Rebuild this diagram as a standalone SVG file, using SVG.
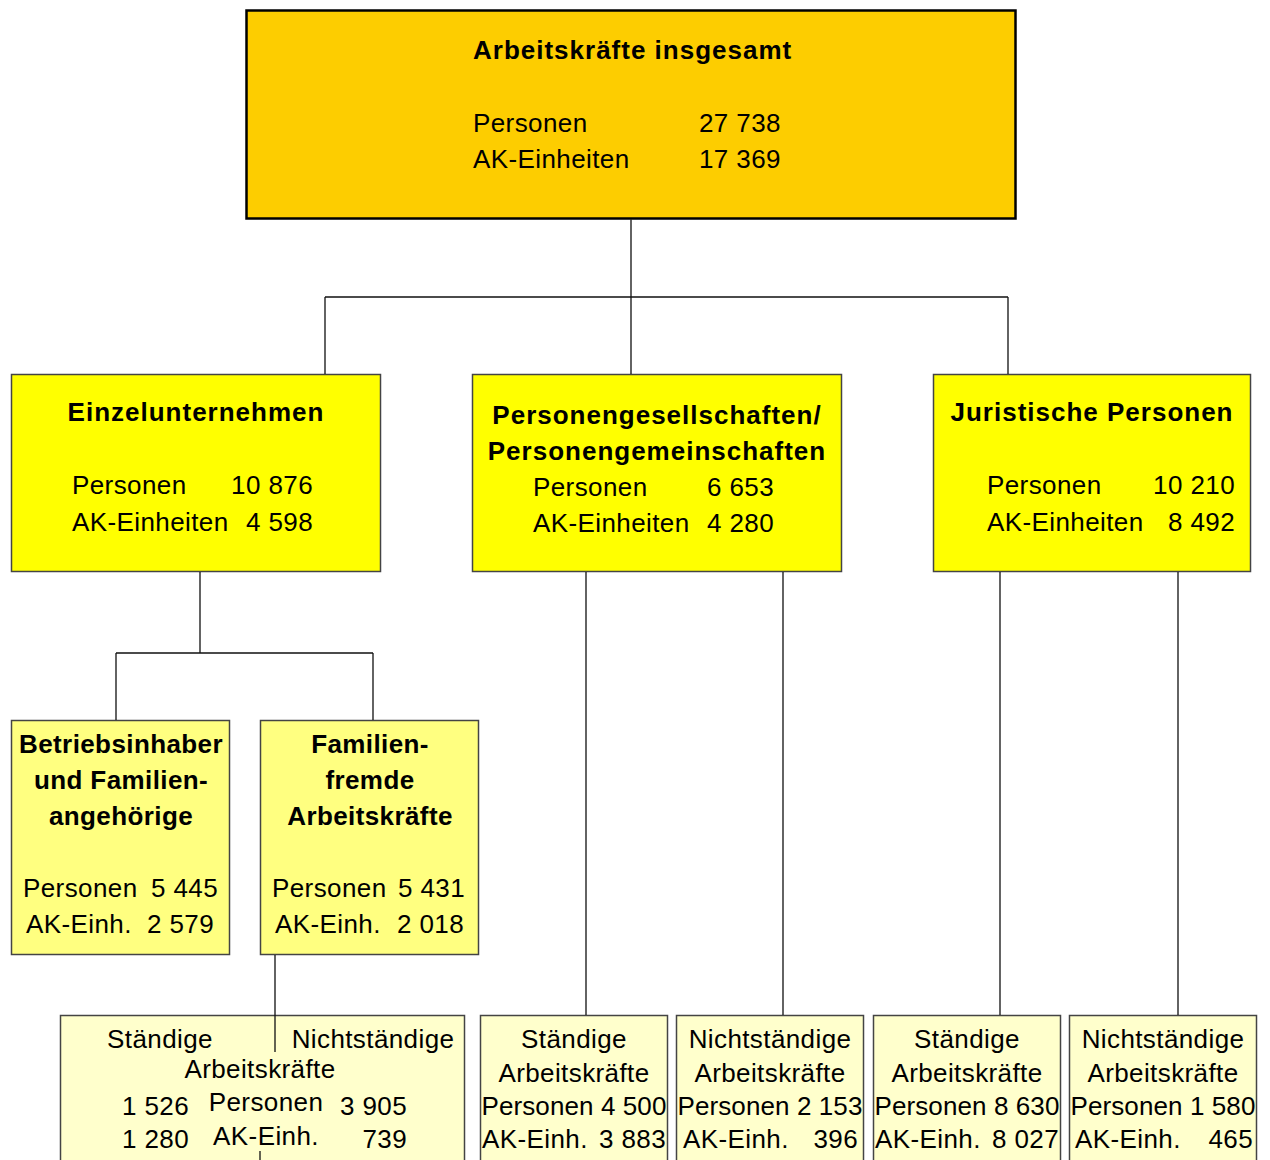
<svg xmlns="http://www.w3.org/2000/svg" width="1270" height="1160" viewBox="0 0 1270 1160">
<style>
text{font-family:"Liberation Sans",Arial,sans-serif;font-size:26px;fill:#000;letter-spacing:0.4px}
.b{font-weight:bold;letter-spacing:1px}
.b2{font-weight:bold;letter-spacing:0.4px}
.c{text-anchor:middle}
.r{text-anchor:end}
.s{letter-spacing:0.1px}
.box{stroke:#444;stroke-width:1.5}
.l1{fill:#FFFF00}
.l2{fill:#FFFF80}
.l3{fill:#FFFFCC}
.conn{stroke:#111;stroke-width:1.3;fill:none}
</style>
<rect width="1270" height="1160" fill="#fff"/>
<g id="n-total">
<rect x="246.5" y="10.5" width="769" height="208" fill="#FDCD00" stroke="#000" stroke-width="2.5"/>
<text class="b" x="473" y="59">Arbeitskräfte insgesamt</text>
<text x="473" y="132">Personen</text>
<text x="699" y="132">27 738</text>
<text x="473" y="168">AK-Einheiten</text>
<text x="699" y="168">17 369</text>
</g>
<g id="n-einzel">
<rect class="box l1" x="11.5" y="374.5" width="369" height="197"/>
<text class="b c" x="196" y="421">Einzelunternehmen</text>
<text x="72" y="494">Personen</text>
<text class="r" x="313" y="494">10 876</text>
<text x="72" y="531">AK-Einheiten</text>
<text class="r" x="313" y="531">4 598</text>
</g>
<g id="n-persges">
<rect class="box l1" x="472.5" y="374.5" width="369" height="197"/>
<text class="b c" x="657" y="424">Personengesellschaften/</text>
<text class="b c" x="657" y="460">Personengemeinschaften</text>
<text x="533" y="496">Personen</text>
<text x="707" y="496">6 653</text>
<text x="533" y="532">AK-Einheiten</text>
<text x="707" y="532">4 280</text>
</g>
<g id="n-jur">
<rect class="box l1" x="933.5" y="374.5" width="317" height="197"/>
<text class="b c" x="1092" y="421">Juristische Personen</text>
<text x="987" y="494">Personen</text>
<text class="r" x="1235" y="494">10 210</text>
<text x="987" y="531">AK-Einheiten</text>
<text class="r" x="1235" y="531">8 492</text>
</g>
<g id="n-inhaber">
<rect class="box l2" x="11.5" y="720.5" width="218" height="234"/>
<text class="b2 c" x="121" y="753">Betriebsinhaber</text>
<text class="b2 c" x="121" y="789">und Familien-</text>
<text class="b2 c" x="121" y="825">angehörige</text>
<text x="23" y="897">Personen</text>
<text class="r" x="218" y="897">5 445</text>
<text x="26" y="933">AK-Einh.</text>
<text class="r" x="214" y="933">2 579</text>
</g>
<g id="n-fremd">
<rect class="box l2" x="260.5" y="720.5" width="218" height="234"/>
<text class="b2 c" x="370" y="753">Familien-</text>
<text class="b2 c" x="370" y="789">fremde</text>
<text class="b2 c" x="370" y="825">Arbeitskräfte</text>
<text x="272" y="897">Personen</text>
<text class="r" x="465" y="897">5 431</text>
<text x="275" y="933">AK-Einh.</text>
<text class="r" x="464" y="933">2 018</text>
</g>
<g id="n-fremd-split">
<rect class="box l3" x="60.5" y="1015.5" width="404" height="160"/>
<text class="c" x="160" y="1048">Ständige</text>
<text class="c" x="373" y="1048">Nichtständige</text>
<text class="c" x="260" y="1078">Arbeitskräfte</text>
<text class="r" x="189" y="1115">1 526</text>
<text class="c" x="266" y="1111">Personen</text>
<text class="r" x="407" y="1115">3 905</text>
<text class="r" x="189" y="1148">1 280</text>
<text class="c" x="266" y="1145">AK-Einh.</text>
<text class="r" x="407" y="1148">739</text>
</g>
<g id="n-pg-st">
<rect class="box l3" x="480.5" y="1015.5" width="187" height="160"/>
<text class="c" x="574" y="1048">Ständige</text>
<text class="c" x="574" y="1082">Arbeitskräfte</text>
<text class="c s" x="574" y="1115">Personen 4 500</text>
<text x="482" y="1148">AK-Einh.</text>
<text class="r" x="666" y="1148">3 883</text>
</g>
<g id="n-pg-nst">
<rect class="box l3" x="676.5" y="1015.5" width="187" height="160"/>
<text class="c" x="770" y="1048">Nichtständige</text>
<text class="c" x="770" y="1082">Arbeitskräfte</text>
<text class="c s" x="770" y="1115">Personen 2 153</text>
<text x="683" y="1148">AK-Einh.</text>
<text class="r" x="858" y="1148">396</text>
</g>
<g id="n-jp-st">
<rect class="box l3" x="873.5" y="1015.5" width="187" height="160"/>
<text class="c" x="967" y="1048">Ständige</text>
<text class="c" x="967" y="1082">Arbeitskräfte</text>
<text class="c s" x="967" y="1115">Personen 8 630</text>
<text x="875" y="1148">AK-Einh.</text>
<text class="r" x="1059" y="1148">8 027</text>
</g>
<g id="n-jp-nst">
<rect class="box l3" x="1069.5" y="1015.5" width="187" height="160"/>
<text class="c" x="1163" y="1048">Nichtständige</text>
<text class="c" x="1163" y="1082">Arbeitskräfte</text>
<text class="c s" x="1163" y="1115">Personen 1 580</text>
<text x="1075" y="1148">AK-Einh.</text>
<text class="r" x="1253" y="1148">465</text>
</g>
<g id="connectors">
<path class="conn" d="M631 219.5V374M325 297H1008M325 297V374M1008 297V374"/>
<path class="conn" d="M200 572V653M116 653H373M116 653V720M373 653V720"/>
<path class="conn" d="M275 955V1052M260 1151V1160"/>
<path class="conn" d="M586 572V1015M783 572V1015M1000 572V1015M1178 572V1015"/>
</g>
</svg>
